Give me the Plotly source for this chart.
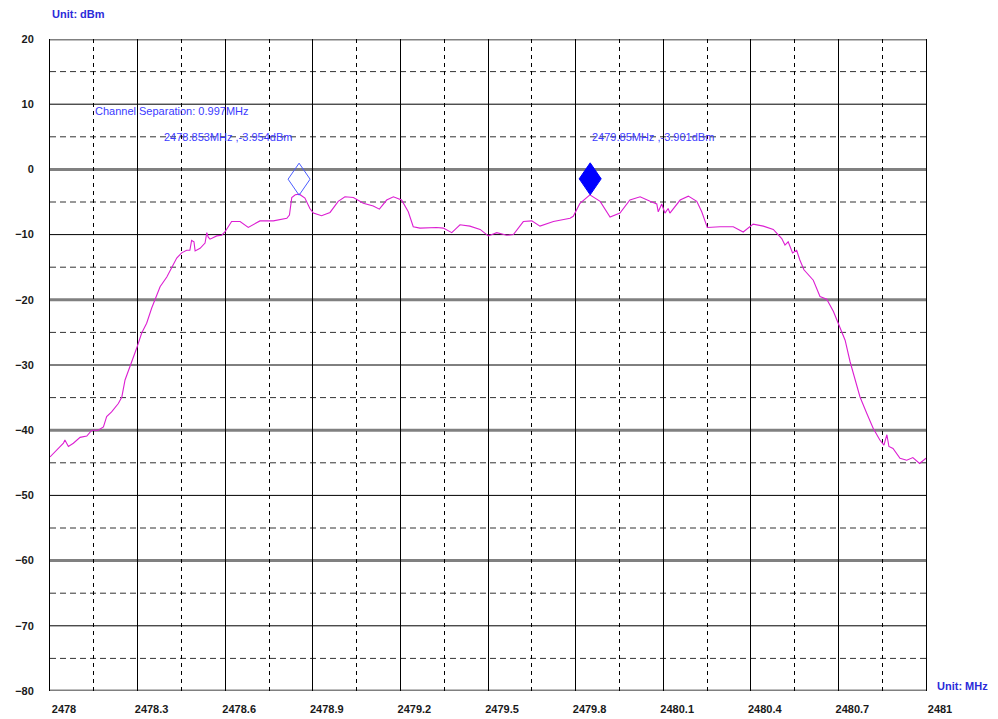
import plotly.graph_objects as go

# ---- data ----
freq_mhz = [
    2478.000, 2478.017, 2478.046, 2478.051, 2478.063, 2478.080, 2478.091, 2478.103,
    2478.126, 2478.143, 2478.165, 2478.183, 2478.194, 2478.211, 2478.234, 2478.246,
    2478.257, 2478.274, 2478.297, 2478.314, 2478.331, 2478.348, 2478.360, 2478.377,
    2478.400, 2478.417, 2478.434, 2478.451, 2478.468, 2478.479, 2478.485, 2478.493,
    2478.497, 2478.514, 2478.531, 2478.537, 2478.542, 2478.548, 2478.571, 2478.588,
    2478.599, 2478.622, 2478.651, 2478.679, 2478.719, 2478.765, 2478.811, 2478.820,
    2478.828, 2478.840, 2478.854, 2478.873, 2478.890, 2478.902, 2478.930, 2478.959,
    2478.987, 2479.010, 2479.039, 2479.073, 2479.107, 2479.128, 2479.153, 2479.176,
    2479.204, 2479.227, 2479.244, 2479.267, 2479.324, 2479.347, 2479.376, 2479.404,
    2479.438, 2479.473, 2479.501, 2479.530, 2479.564, 2479.587, 2479.621, 2479.650,
    2479.678, 2479.724, 2479.781, 2479.792, 2479.815, 2479.849, 2479.884, 2479.918,
    2479.952, 2479.986, 2480.021, 2480.055, 2480.078, 2480.083, 2480.095, 2480.106,
    2480.117, 2480.123, 2480.158, 2480.186, 2480.215, 2480.232, 2480.251, 2480.295,
    2480.340, 2480.374, 2480.408, 2480.443, 2480.477, 2480.506, 2480.517, 2480.528,
    2480.543, 2480.557, 2480.568, 2480.582, 2480.597, 2480.614, 2480.637, 2480.660,
    2480.683, 2480.705, 2480.723, 2480.740, 2480.757, 2480.774, 2480.797, 2480.819,
    2480.842, 2480.856, 2480.866, 2480.873, 2480.887, 2480.911, 2480.934, 2480.955,
    2480.978, 2481.000,
]
level_dbm = [
    -44.1, -43.3, -42.0, -41.5, -42.5, -42.0, -41.5, -41.1,
    -40.9, -40.0, -40.0, -39.5, -37.9, -37.2, -35.9, -34.9,
    -32.3, -30.3, -27.4, -25.1, -23.6, -21.3, -19.8, -18.0,
    -16.5, -15.0, -13.6, -12.8, -12.4, -12.4, -10.9, -11.1,
    -12.5, -12.1, -11.3, -9.7, -10.4, -10.7, -10.2, -10.1,
    -9.6, -8.0, -8.0, -8.9, -7.9, -7.9, -7.5, -7.0,
    -4.3, -3.9, -3.8, -4.4, -6.0, -6.7, -7.1, -6.6,
    -4.9, -4.2, -4.3, -5.2, -5.6, -6.1, -4.7, -4.2,
    -4.7, -6.5, -8.8, -9.0, -8.9, -9.0, -9.7, -8.5,
    -8.7, -9.2, -10.2, -9.7, -10.1, -10.0, -8.0, -7.9,
    -8.7, -8.0, -7.5, -7.2, -5.2, -3.9, -4.9, -7.3,
    -6.7, -4.7, -4.2, -4.9, -5.3, -6.5, -5.3, -6.7,
    -6.0, -6.7, -4.7, -4.1, -4.9, -6.5, -8.9, -8.8,
    -8.8, -9.6, -8.4, -8.7, -9.2, -10.6, -11.6, -11.1,
    -12.8, -12.4, -13.9, -15.4, -16.2, -17.0, -19.5, -19.9,
    -21.8, -24.1, -26.2, -29.5, -32.3, -34.9, -37.4, -39.7,
    -41.5, -42.3, -40.7, -42.5, -42.8, -44.3, -44.6, -44.2,
    -45.1, -44.3,
]

marker_freq = [2478.853, 2479.85]
marker_level = [-3.954, -3.901]
marker_labels = ["2478.853MHz ,-3.954dBm", "2479.85MHz ,-3.901dBm"]
channel_sep_text = "Channel Separation: 0.997MHz"

x_ticks = [2478, 2478.3, 2478.6, 2478.9, 2479.2, 2479.5, 2479.8, 2480.1, 2480.4, 2480.7, 2481]
x_tick_text = ["2478", "2478.3", "2478.6", "2478.9", "2479.2", "2479.5", "2479.8",
               "2480.1", "2480.4", "2480.7", "2481"]
y_ticks = [20, 10, 0, -10, -20, -30, -40, -50, -60, -70, -80]

# ---- figure ----
TRACE_COLOR = "#dc1fd2"
TEXT_BLUE = "#3b3bff"
UNIT_BLUE = "#2b2bd9"
FAMILY = "Liberation Sans, Arial, sans-serif"
LABEL_FONT = dict(family=FAMILY, size=11, color="#1a1a1a", weight="bold")

fig = go.Figure()
fig.add_trace(go.Scatter(
    x=freq_mhz, y=level_dbm, mode="lines",
    line=dict(color=TRACE_COLOR, width=1.1),
    showlegend=False, hoverinfo="skip",
))

shapes = []
# horizontal grid: thick grey every 20 dB, thin black in between, dashed at the halves
for lvl in y_ticks:
    grey = lvl % 20 == 0
    shapes.append(dict(type="line", xref="paper", x0=0, x1=1, yref="y", y0=lvl, y1=lvl,
                       line=dict(color="#808080" if grey else "black", width=3 if grey else 1),
                       layer="below"))
for a, b in zip(y_ticks[:-1], y_ticks[1:]):
    mid = (a + b) / 2
    shapes.append(dict(type="line", xref="paper", x0=0, x1=1, yref="y", y0=mid, y1=mid,
                       line=dict(color="#333333", width=1, dash="6px,4px"),
                       layer="below"))

# diamond markers sitting on top of the peaks (pixel sized)
w, h = 22, 32
diamond = f"M0,0 L{-w/2},{h/2} L0,{h} L{w/2},{h/2} Z"
for i, (mf, ml) in enumerate(zip(marker_freq, marker_level)):
    filled = i == 1
    shapes.append(dict(type="path", xref="x", yref="y",
                       xsizemode="pixel", ysizemode="pixel",
                       xanchor=mf, yanchor=ml, path=diamond,
                       line=dict(color="#0000ff" if filled else "#4a5cff", width=1),
                       fillcolor="#0000ff" if filled else "rgba(0,0,0,0)",
                       layer="above"))

annotations = [
    dict(x=2478.147, y=9, xref="x", yref="y", text=channel_sep_text, showarrow=False,
         xanchor="left", yanchor="middle",
         font=dict(family=FAMILY, size=11, color=TEXT_BLUE)),
    dict(x=marker_freq[0], y=5, xref="x", yref="y", text=marker_labels[0], showarrow=False,
         xanchor="right", yanchor="middle", xshift=-5,
         font=dict(family=FAMILY, size=11, color=TEXT_BLUE)),
    dict(x=marker_freq[1], y=5, xref="x", yref="y", text=marker_labels[1], showarrow=False,
         xanchor="left", yanchor="middle",
         font=dict(family=FAMILY, size=11, color=TEXT_BLUE)),
    dict(x=0, y=1, xref="paper", yref="paper", text="Unit: dBm", showarrow=False,
         xanchor="left", yanchor="bottom", yshift=17,
         font=dict(family=FAMILY, size=11, color=UNIT_BLUE, weight="bold")),
    dict(x=1, y=0, xref="paper", yref="paper", text="Unit: MHz", showarrow=False,
         xanchor="left", yanchor="middle", xshift=9, yshift=5,
         font=dict(family=FAMILY, size=11, color=UNIT_BLUE, weight="bold")),
]

fig.update_layout(
    width=990, height=711,
    margin=dict(l=42, r=72, t=31, b=28, pad=0),
    paper_bgcolor="white", plot_bgcolor="white",
    showlegend=False,
    shapes=shapes,
    annotations=annotations,
    xaxis=dict(
        range=[2478, 2481], tickmode="array", tickvals=x_ticks, ticktext=x_tick_text,
        showgrid=True, gridcolor="black", gridwidth=1,
        minor=dict(dtick=0.15, tick0=2478, showgrid=True, gridcolor="black",
                   gridwidth=1, griddash="4px,4px"),
        zeroline=False, showline=False, ticks="", automargin=False,
        tickfont=LABEL_FONT, ticklabelshift=14, ticklabelstandoff=10,
    ),
    yaxis=dict(
        range=[-80, 20], tickmode="array", tickvals=y_ticks,
        showgrid=False,
        zeroline=False, showline=True, mirror=True, linecolor="black", linewidth=1,
        ticks="", automargin=False, tickfont=LABEL_FONT, ticklabelstandoff=13,
    ),
)

fig.write_html("out.html")
